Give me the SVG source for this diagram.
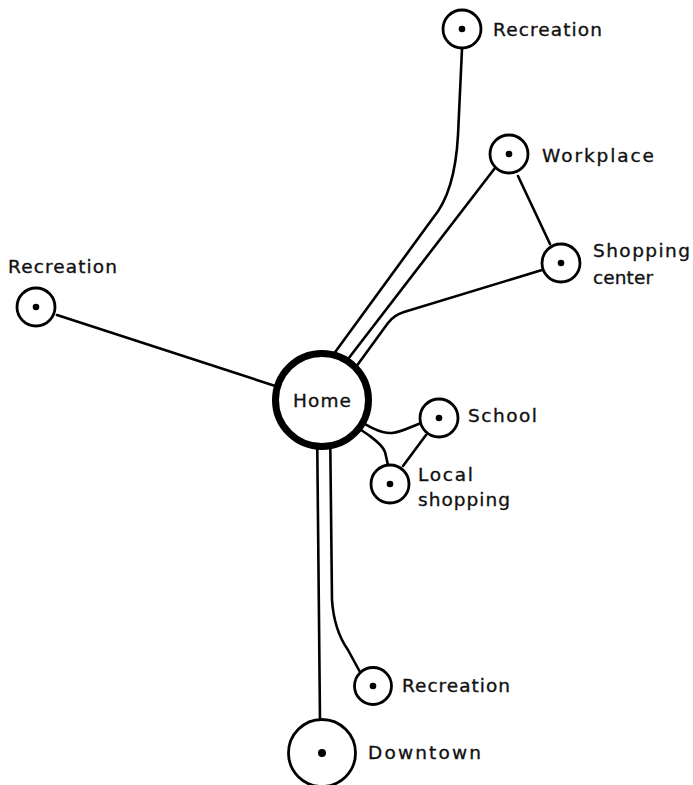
<svg xmlns="http://www.w3.org/2000/svg" width="693" height="785" viewBox="0 0 693 785">
<style>
.c{fill:none;stroke:#000;stroke-width:2.6;stroke-linecap:round;stroke-linejoin:round}
.n{fill:#fff;stroke:#000;stroke-width:2.8}
.d{fill:#000}
.t{font-family:"DejaVu Sans","Liberation Sans",sans-serif;font-size:18.5px;fill:#111;stroke:#111;stroke-width:0.35}
</style>
<rect width="693" height="785" fill="#fff"/>
<g id="connectors">
<path class="c" d="M57 315 L300 394"/>
<path class="c" d="M462 49 L458 135 Q455 192 433 218 L325 366"/>
<path class="c" d="M495 168 L335 376"/>
<path class="c" d="M542 270 L404 312 Q394 315 388 323 L345 382"/>
<path class="c" d="M518 176 L550 244"/>
<path class="c" d="M345 412 C368 426 380 434 392 433 C402 432 410 427 421 423"/>
<path class="c" d="M345 420 C365 432 382 443 385 452 L388 465"/>
<path class="c" d="M426 435 L403 466"/>
<path class="c" d="M317 420 L320 720"/>
<path class="c" d="M330 420 L332 600 Q334 630 348 650 L360 672"/>
</g>
<g id="home">
<circle cx="322" cy="400" r="46.5" fill="#fff" stroke="#000" stroke-width="7"/>
<text class="t" x="293" y="407" textLength="58" lengthAdjust="spacing">Home</text>
</g>
<g id="recreation-top">
<circle class="n" cx="462" cy="29" r="19"/>
<circle class="d" cx="462" cy="29" r="3.3"/>
<text class="t" x="493" y="36" textLength="109" lengthAdjust="spacing">Recreation</text>
</g>
<g id="workplace">
<circle class="n" cx="509" cy="154" r="19"/>
<circle class="d" cx="509" cy="154" r="3.3"/>
<text class="t" x="542" y="162" textLength="112" lengthAdjust="spacing">Workplace</text>
</g>
<g id="shopping-center">
<circle class="n" cx="561" cy="263" r="19"/>
<circle class="d" cx="561" cy="263" r="3.3"/>
<text class="t" x="593" y="257" textLength="97" lengthAdjust="spacing">Shopping</text>
<text class="t" x="593" y="284" textLength="60" lengthAdjust="spacing">center</text>
</g>
<g id="recreation-left">
<circle class="n" cx="36" cy="307" r="19"/>
<circle class="d" cx="36" cy="307" r="3.3"/>
<text class="t" x="8" y="273" textLength="109" lengthAdjust="spacing">Recreation</text>
</g>
<g id="school">
<circle class="n" cx="439" cy="418" r="19"/>
<circle class="d" cx="439" cy="418" r="3.3"/>
<text class="t" x="468" y="422" textLength="69" lengthAdjust="spacing">School</text>
</g>
<g id="local-shopping">
<circle class="n" cx="390" cy="484" r="19"/>
<circle class="d" cx="390" cy="484" r="3.3"/>
<text class="t" x="418" y="481" textLength="55" lengthAdjust="spacing">Local</text>
<text class="t" x="418" y="506" textLength="92" lengthAdjust="spacing">shopping</text>
</g>
<g id="recreation-bottom">
<circle class="n" cx="373" cy="686" r="18.5"/>
<circle class="d" cx="373" cy="686" r="3.3"/>
<text class="t" x="402" y="692" textLength="108" lengthAdjust="spacing">Recreation</text>
</g>
<g id="downtown">
<circle class="n" cx="322" cy="753" r="33.5" stroke-width="2.5"/>
<circle class="d" cx="322" cy="753" r="4"/>
<text class="t" x="368" y="759" textLength="113" lengthAdjust="spacing">Downtown</text>
</g>
</svg>
